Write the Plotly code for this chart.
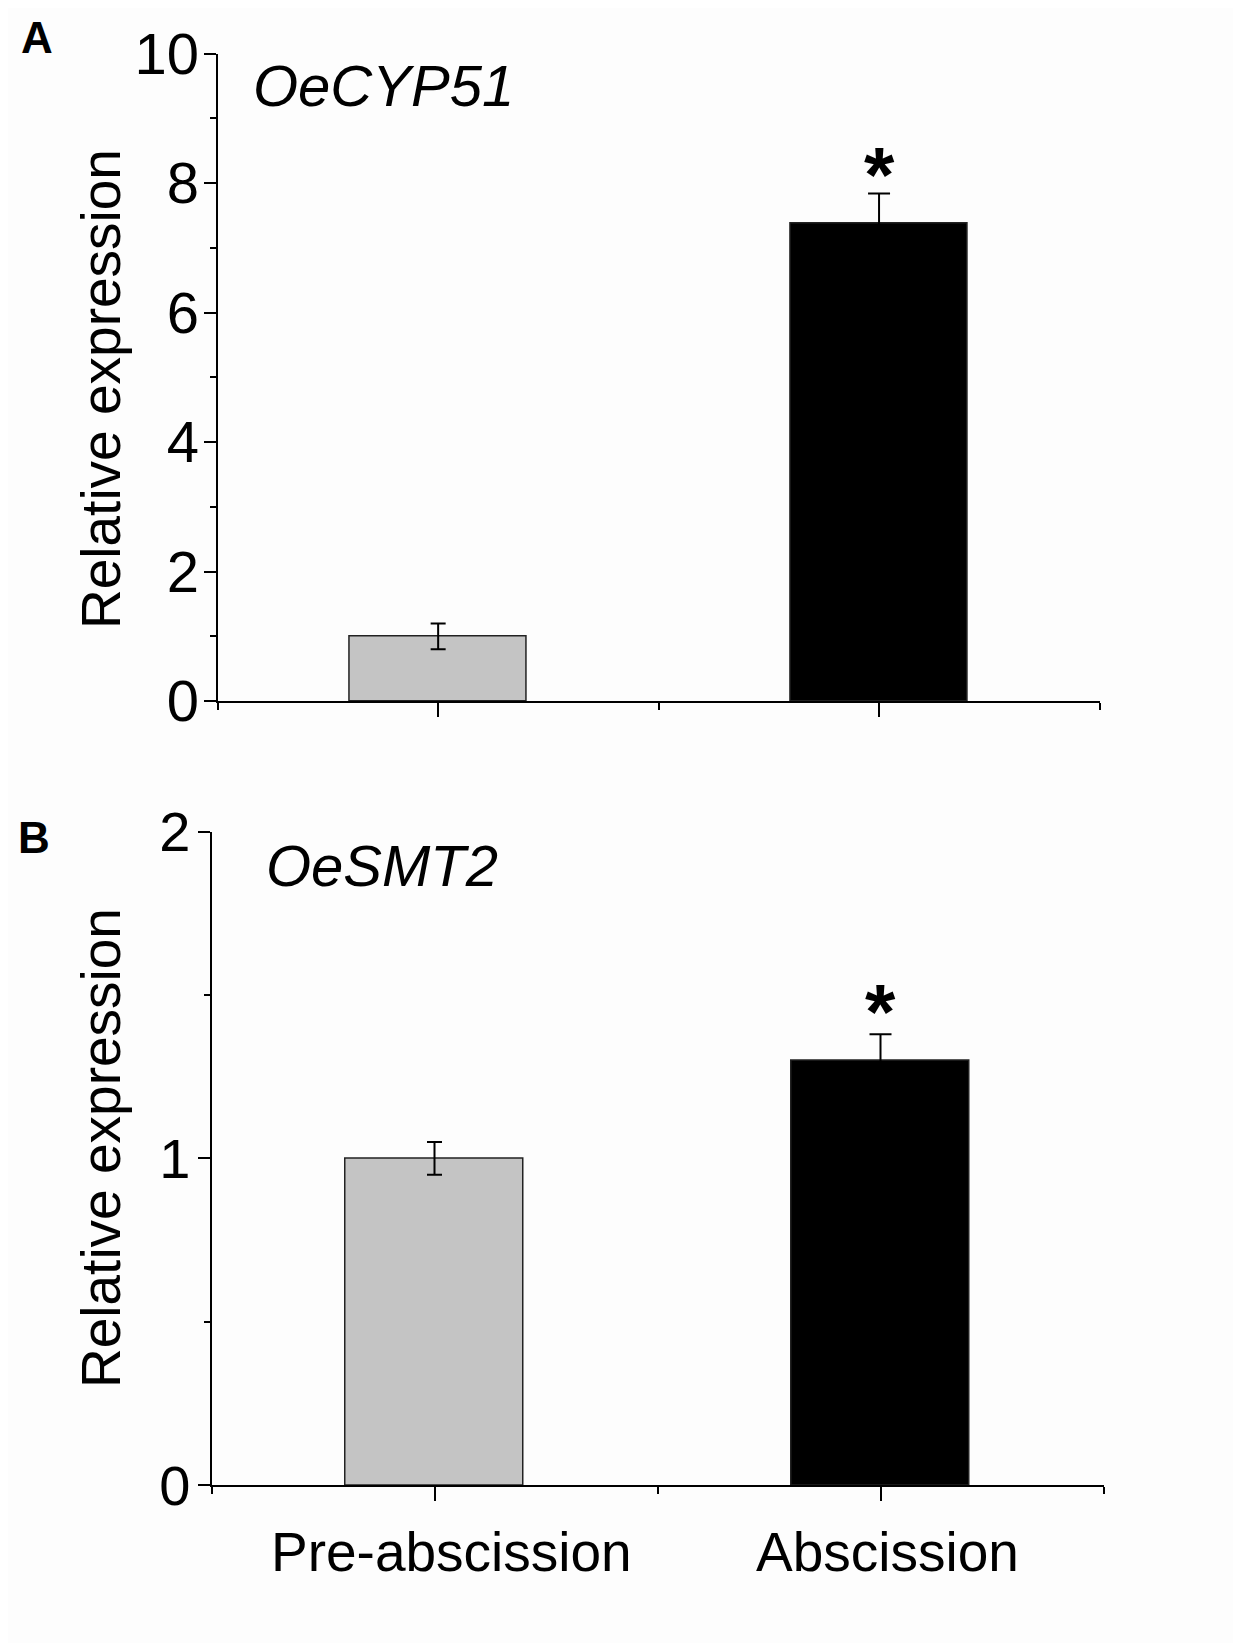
import plotly.graph_objects as go

# data
categories = ["Pre-abscission", "Abscission"]
cyp51_mean = [1.0, 7.37]
cyp51_err = [0.2, 0.47]
smt2_mean = [1.0, 1.30]
smt2_err = [0.05, 0.08]
significance = ["", "*"]
genes = ["OeCYP51", "OeSMT2"]
panel_letters = ["A", "B"]

bar_colors = ["#c4c4c4", "#000000"]
cap_widths = [7.5, 11]
FONT = "Liberation Sans, Arial, sans-serif"

W, H = 1241, 1643
OFF = 8  # page body margin of the html output


def px(x):
    return (x - OFF) / W


def py(y):
    return 1 - (y - OFF) / H


fig = go.Figure()

panels = [
    dict(mean=cyp51_mean, err=cyp51_err, xa="x", ya="y", ymax=10, dtick=2, minor=1,
         tick_size=58, standoff=-7, star_shift=-28),
    dict(mean=smt2_mean, err=smt2_err, xa="x2", ya="y2", ymax=2, dtick=1, minor=0.5,
         tick_size=56, standoff=-4, star_shift=-24),
]

xpos = list(range(len(categories)))

for p in panels:
    for i, cat in enumerate(categories):
        fig.add_trace(go.Bar(
            x=[xpos[i]], y=[p["mean"][i]],
            width=0.4,
            marker=dict(color=bar_colors[i], line=dict(color="#222222", width=1.5)),
            error_y=dict(type="data", array=[p["err"][i]], color="#000000",
                         thickness=2, width=cap_widths[i]),
            xaxis=p["xa"], yaxis=p["ya"],
            showlegend=False, hoverinfo="skip",
        ))
        if significance[i]:
            fig.add_annotation(
                x=xpos[i], y=p["mean"][i] + p["err"][i],
                xref=p["xa"], yref=p["ya"],
                text="<b>%s</b>" % significance[i], showarrow=False,
                yanchor="bottom", yshift=p["star_shift"],
                font=dict(family=FONT, size=78, color="#000000"),
            )

axis_common = dict(
    showline=True, linecolor="#000000", linewidth=2,
    showgrid=False, zeroline=False, automargin=False,
    ticks="outside", tickcolor="#000000", tickwidth=2,
)

x_domains = [[px(217.7), px(1099.5)], [px(211.5), px(1103.5)]]
y_domains = [[py(701.1), py(53.5)], [py(1485.2), py(831.7)]]

for k, p in enumerate(panels):
    xname = "xaxis" if k == 0 else "xaxis2"
    yname = "yaxis" if k == 0 else "yaxis2"
    fig.update_layout(**{
        xname: dict(
            axis_common, domain=x_domains[k], range=[-0.5, len(categories) - 0.5],
            anchor=p["ya"], tickvals=xpos, ticktext=["", ""], ticklen=14,
            minor=dict(tickvals=[-0.5, 0.5, 1.5], ticks="outside", ticklen=7,
                       tickcolor="#000000", tickwidth=2),
        ),
        yname: dict(
            axis_common, domain=y_domains[k], range=[0, p["ymax"]],
            anchor=p["xa"], dtick=p["dtick"], ticklen=12,
            ticklabelstandoff=p["standoff"],
            tickfont=dict(family=FONT, size=p["tick_size"], color="#000000"),
            minor=dict(dtick=p["minor"], ticks="outside", ticklen=6,
                       tickcolor="#000000", tickwidth=2),
        ),
    })

# y-axis titles, gene names, panel letters
title_y = [389, 1148]
gene_xy = [(383, 86), (382, 865)]
letter_xy = [(36.7, 38), (33.7, 838)]
for k in range(2):
    fig.add_annotation(
        x=px(101), y=py(title_y[k]), xref="paper", yref="paper",
        text="Relative expression", textangle=-90, showarrow=False,
        xanchor="center", yanchor="middle",
        font=dict(family=FONT, size=55, color="#000000"),
    )
    fig.add_annotation(
        x=px(gene_xy[k][0]), y=py(gene_xy[k][1]), xref="paper", yref="paper",
        text="<i>%s</i>" % genes[k], showarrow=False,
        xanchor="center", yanchor="middle",
        font=dict(family=FONT, size=58, color="#000000"),
    )
    fig.add_annotation(
        x=px(letter_xy[k][0]), y=py(letter_xy[k][1]), xref="paper", yref="paper",
        text="<b>%s</b>" % panel_letters[k], showarrow=False,
        xanchor="center", yanchor="middle",
        font=dict(family=FONT, size=44, color="#000000"),
    )

# category labels under the lower panel
label_shift = [17, 7]
for i, cat in enumerate(categories):
    fig.add_annotation(
        x=xpos[i], y=0, xref="x2", yref="y2", text=cat, showarrow=False,
        xshift=label_shift[i], yanchor="top", yshift=-34,
        font=dict(family=FONT, size=55, color="#000000"),
    )

fig.update_layout(
    width=W, height=H,
    margin=dict(l=0, r=0, t=0, b=0),
    plot_bgcolor="#fdfdfd", paper_bgcolor="#fdfdfd",
    bargap=0,
)

fig.write_html("out.html")
